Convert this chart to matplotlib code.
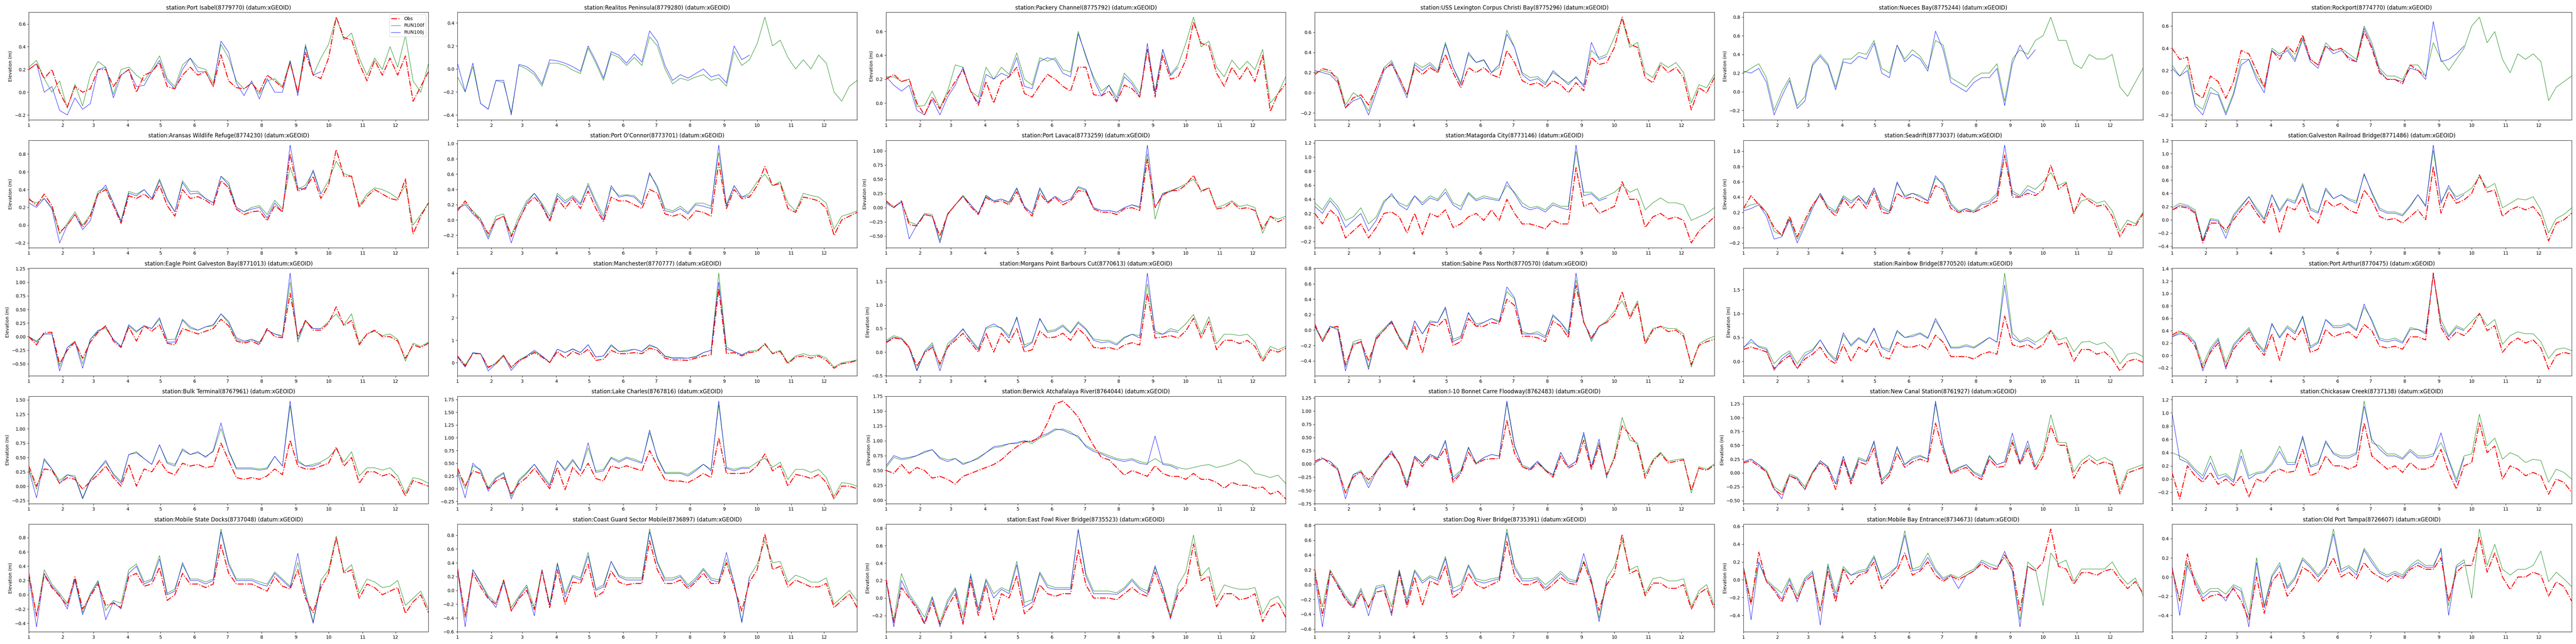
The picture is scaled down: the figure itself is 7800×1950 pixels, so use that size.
import matplotlib
matplotlib.use('Agg')
import matplotlib.pyplot as plt
import numpy as np

# weekly samples (every 7 days from Jan 1)
step_days = 7
month_start_days = [0, 31, 59, 90, 120, 151, 181, 212, 243, 273, 304, 334]
month_labels = ['1', '2', '3', '4', '5', '6', '7', '8', '9', '10', '11', '12']

station_names = ['Port Isabel', 'Realitos Peninsula', 'Packery Channel', 'USS Lexington Corpus Christi Bay',
                 'Nueces Bay', 'Rockport', 'Aransas Wildlife Refuge', "Port O'Connor", 'Port Lavaca',
                 'Matagorda City', 'Seadrift', 'Galveston Railroad Bridge', 'Eagle Point Galveston Bay',
                 'Manchester', 'Morgans Point Barbours Cut', 'Sabine Pass North', 'Rainbow Bridge',
                 'Port Arthur', 'Bulk Terminal', 'Lake Charles', 'Berwick Atchafalaya River',
                 'I-10 Bonnet Carre Floodway', 'New Canal Station', 'Chickasaw Creek', 'Mobile State Docks',
                 'Coast Guard Sector Mobile', 'East Fowl River Bridge', 'Dog River Bridge',
                 'Mobile Bay Entrance', 'Old Port Tampa']
station_ids = ['8779770', '8779280', '8775792', '8775296', '8775244', '8774770', '8774230', '8773701',
               '8773259', '8773146', '8773037', '8771486', '8771013', '8770777', '8770613', '8770570',
               '8770520', '8770475', '8767961', '8767816', '8764044', '8762483', '8761927', '8737138',
               '8737048', '8736897', '8735523', '8735391', '8734673', '8726607']

obs_8779770 = [0.2,0.25,0.12,0.2,0.0,-0.13,0.05,0.0,0.03,0.2,0.2,0.05,0.15,0.2,0.0,0.15,0.18,0.26,0.05,0.03,0.15,0.22,0.15,0.18,0.05,0.33,0.1,0.04,0.03,0.08,0.0,0.15,0.1,0.04,0.26,0.0,0.35,0.15,0.12,0.3,0.66,0.48,0.46,0.25,0.1,0.28,0.15,0.3,0.15,0.32,-0.08,0.05,0.18]
f_8779770 = [0.22,0.28,0.12,0.0,0.1,-0.14,0.07,-0.12,0.15,0.27,0.22,-0.02,0.2,0.22,0.15,0.1,0.2,0.32,0.12,0.05,0.24,0.3,0.22,0.2,0.08,0.42,0.3,0.1,0.03,0.08,-0.02,0.1,0.12,0.05,0.28,0.0,0.42,0.15,0.3,0.42,0.66,0.46,0.52,0.3,0.15,0.3,0.2,0.4,0.22,0.5,0.1,0.0,0.25]
j_8779770 = [0.2,0.25,0.0,0.05,-0.16,-0.2,-0.05,-0.15,-0.1,0.2,0.22,-0.05,0.15,0.2,0.05,0.06,0.18,0.28,0.1,0.03,0.2,0.3,0.18,0.18,0.05,0.45,0.35,0.08,-0.03,0.1,-0.06,0.12,0.0,0.0,0.27,-0.03,0.4,0.15,0.18]

obs_8779280 = []
f_8779280 = [-0.07,-0.2,0.02,-0.3,-0.35,-0.1,-0.12,-0.38,0.03,0.0,-0.05,-0.15,0.05,0.05,0.03,-0.01,-0.04,0.18,0.05,-0.1,0.13,0.1,0.03,0.1,0.03,0.28,0.2,0.0,-0.13,-0.08,-0.1,-0.07,-0.05,-0.1,-0.08,-0.15,0.15,0.03,0.08,0.22,0.45,0.2,0.25,0.1,0.0,0.08,0.0,0.12,0.05,-0.2,-0.28,-0.15,-0.1]
j_8779280 = [0.05,-0.2,0.05,-0.3,-0.35,-0.1,-0.1,-0.4,0.04,0.02,-0.03,-0.13,0.08,0.07,0.05,0.02,-0.02,0.2,0.07,-0.08,0.15,0.12,0.05,0.13,0.06,0.33,0.24,0.03,-0.1,-0.05,-0.08,-0.04,0.0,-0.07,-0.05,-0.12,0.2,0.08,0.12]

obs_8775792 = [0.2,0.24,0.18,0.2,0.0,-0.1,0.05,-0.05,0.08,0.18,0.28,0.1,-0.02,0.18,0.0,0.18,0.22,0.3,0.08,0.05,0.15,0.24,0.2,0.14,0.1,0.3,0.3,0.07,0.06,0.1,0.01,0.15,0.12,0.05,0.45,0.05,0.4,0.2,0.22,0.36,0.68,0.5,0.48,0.25,0.14,0.3,0.2,0.3,0.18,0.4,-0.07,0.08,0.16]
f_8775792 = [0.22,0.22,0.18,0.2,-0.03,-0.02,0.1,-0.04,0.1,0.32,0.3,0.1,0.05,0.3,0.2,0.3,0.24,0.42,0.2,0.15,0.38,0.35,0.38,0.28,0.26,0.6,0.38,0.22,0.1,0.15,0.05,0.25,0.18,0.08,0.45,0.1,0.45,0.24,0.32,0.5,0.72,0.47,0.52,0.3,0.22,0.36,0.28,0.35,0.28,0.45,0.0,0.08,0.22]
j_8775792 = [0.22,0.15,0.1,0.15,-0.06,-0.1,0.03,-0.1,0.05,0.15,0.3,0.1,0.0,0.24,0.2,0.25,0.22,0.38,0.14,0.12,0.35,0.38,0.36,0.25,0.22,0.58,0.4,0.2,0.06,0.15,0.02,0.22,0.16,0.05,0.5,0.08,0.45,0.23,0.3]

obs_8775296 = [0.18,0.24,0.22,0.12,-0.15,-0.05,-0.02,-0.12,0.05,0.24,0.28,0.15,-0.02,0.25,0.18,0.25,0.2,0.38,0.2,0.05,0.25,0.2,0.25,0.18,0.15,0.42,0.3,0.12,0.08,0.1,0.05,0.12,0.08,0.0,0.1,0.02,0.35,0.28,0.3,0.45,0.75,0.48,0.45,0.15,0.1,0.28,0.2,0.25,0.15,-0.17,0.05,0.0,0.15]
f_8775296 = [0.2,0.22,0.2,0.15,-0.12,0.0,-0.05,-0.18,0.05,0.25,0.32,0.15,-0.02,0.3,0.25,0.3,0.22,0.5,0.25,0.1,0.38,0.3,0.32,0.2,0.25,0.62,0.45,0.2,0.15,0.16,0.1,0.2,0.15,0.1,0.15,0.08,0.42,0.35,0.38,0.55,0.73,0.45,0.5,0.2,0.15,0.3,0.25,0.3,0.2,-0.1,0.08,0.05,0.18]
j_8775296 = [0.22,0.2,0.18,0.1,-0.15,-0.08,-0.05,-0.22,0.0,0.22,0.3,0.12,-0.05,0.28,0.22,0.28,0.2,0.48,0.25,0.08,0.4,0.3,0.33,0.2,0.28,0.58,0.45,0.18,0.12,0.14,0.08,0.22,0.15,0.08,0.16,0.06,0.5,0.33,0.36]

obs_8775244 = []
f_8775244 = [0.2,0.25,0.3,0.15,-0.2,0.0,0.15,-0.15,-0.05,0.3,0.4,0.3,0.05,0.35,0.35,0.42,0.4,0.55,0.25,0.2,0.5,0.35,0.45,0.38,0.25,0.55,0.5,0.15,0.1,0.05,0.15,0.2,0.2,0.3,-0.1,0.35,0.45,0.4,0.55,0.6,0.8,0.55,0.55,0.3,0.25,0.4,0.35,0.35,0.4,0.05,-0.05,0.1,0.25]
j_8775244 = [0.22,0.2,0.25,0.1,-0.25,-0.05,0.12,-0.18,-0.1,0.28,0.38,0.28,0.02,0.32,0.3,0.38,0.35,0.52,0.2,0.15,0.5,0.32,0.4,0.35,0.22,0.65,0.45,0.1,0.05,0.0,0.1,0.15,0.15,0.25,-0.15,0.3,0.5,0.35,0.45]

obs_8774770 = [0.4,0.3,0.32,0.0,-0.05,0.15,0.1,-0.05,0.1,0.38,0.35,0.2,0.05,0.38,0.3,0.42,0.35,0.52,0.3,0.25,0.42,0.38,0.4,0.3,0.28,0.55,0.4,0.18,0.12,0.12,0.08,0.25,0.2,0.15]
f_8774770 = [0.25,0.15,0.25,-0.1,-0.15,0.05,0.0,-0.18,0.0,0.3,0.3,0.15,0.05,0.4,0.35,0.4,0.3,0.5,0.3,0.25,0.45,0.38,0.4,0.35,0.3,0.6,0.45,0.22,0.15,0.15,0.12,0.25,0.25,0.15,0.45,0.3,0.2,0.3,0.4,0.6,0.68,0.45,0.55,0.3,0.18,0.35,0.3,0.35,0.28,-0.07,0.05,0.1,0.15]
j_8774770 = [0.22,0.15,0.2,-0.12,-0.2,0.0,-0.02,-0.2,-0.02,0.25,0.3,0.12,0.0,0.38,0.33,0.38,0.28,0.48,0.28,0.22,0.42,0.35,0.38,0.32,0.28,0.58,0.42,0.2,0.12,0.12,0.1,0.22,0.2,0.12,0.64,0.28,0.3,0.35,0.42]

obs_8774230 = [0.3,0.22,0.35,0.22,-0.08,0.0,0.12,-0.02,0.1,0.35,0.4,0.22,0.02,0.33,0.3,0.35,0.28,0.45,0.22,0.1,0.4,0.3,0.32,0.28,0.22,0.5,0.42,0.18,0.12,0.15,0.16,0.05,0.22,0.15,0.8,0.38,0.42,0.55,0.3,0.45,0.85,0.55,0.55,0.2,0.32,0.4,0.35,0.3,0.28,0.52,-0.1,0.1,0.25]
f_8774230 = [0.28,0.25,0.3,0.2,-0.1,0.02,0.15,0.0,0.12,0.38,0.42,0.25,0.05,0.38,0.35,0.4,0.3,0.52,0.3,0.15,0.5,0.38,0.38,0.3,0.25,0.55,0.48,0.2,0.15,0.2,0.22,0.12,0.28,0.18,0.65,0.4,0.45,0.6,0.35,0.5,0.72,0.58,0.55,0.22,0.35,0.42,0.4,0.36,0.3,0.45,0.0,0.12,0.25]
j_8774230 = [0.25,0.2,0.3,0.18,-0.2,0.0,0.12,-0.05,0.05,0.35,0.45,0.25,0.04,0.36,0.33,0.4,0.3,0.5,0.28,0.15,0.48,0.35,0.36,0.3,0.25,0.55,0.45,0.2,0.15,0.18,0.2,0.08,0.25,0.15,0.9,0.42,0.4,0.62,0.35]

obs_8773701 = [0.12,0.25,0.1,0.0,-0.18,0.0,0.05,-0.22,0.0,0.2,0.3,0.18,-0.02,0.28,0.15,0.28,0.15,0.38,0.15,-0.02,0.3,0.25,0.25,0.2,0.15,0.4,0.35,0.08,0.05,0.08,0.0,0.12,0.1,0.05,0.75,0.15,0.4,0.28,0.3,0.45,0.7,0.45,0.48,0.15,0.1,0.3,0.28,0.25,0.15,-0.2,0.0,0.05,0.1]
f_8773701 = [0.15,0.22,0.12,0.02,-0.22,0.05,0.08,-0.2,0.05,0.25,0.35,0.22,0.05,0.35,0.25,0.32,0.22,0.48,0.25,0.05,0.42,0.32,0.33,0.32,0.22,0.6,0.45,0.15,0.12,0.18,0.1,0.22,0.22,0.18,0.88,0.2,0.45,0.3,0.35,0.5,0.6,0.45,0.5,0.22,0.12,0.35,0.32,0.3,0.22,-0.12,0.05,0.08,0.12]
j_8773701 = [0.15,0.2,0.08,-0.02,-0.25,0.0,0.05,-0.3,0.0,0.22,0.35,0.2,0.0,0.32,0.22,0.3,0.2,0.45,0.22,0.0,0.45,0.3,0.32,0.3,0.2,0.62,0.42,0.12,0.1,0.15,0.08,0.2,0.18,0.15,0.98,0.18,0.45,0.3,0.32]

obs_8773259 = [0.12,0.0,0.12,-0.3,-0.32,-0.12,-0.15,-0.5,-0.12,0.05,0.2,0.02,-0.12,0.18,0.1,0.12,0.05,0.28,0.0,-0.15,0.25,0.08,0.18,0.05,0.12,0.3,0.28,-0.02,-0.08,-0.08,-0.12,-0.02,0.0,-0.05,0.85,0.0,0.22,0.3,0.3,0.4,0.57,0.28,0.35,-0.02,0.0,0.1,-0.02,0.0,-0.05,-0.38,-0.15,-0.25,-0.18]
f_8773259 = [0.1,0.02,0.1,-0.25,-0.3,-0.1,-0.12,-0.58,-0.1,0.05,0.22,0.05,-0.1,0.2,0.12,0.15,0.08,0.33,0.02,-0.1,0.32,0.1,0.2,0.1,0.15,0.35,0.3,0.0,-0.05,-0.05,-0.08,0.0,0.05,0.02,0.95,-0.2,0.25,0.3,0.35,0.42,0.5,0.3,0.35,0.0,0.05,0.12,0.02,0.05,0.0,-0.45,-0.15,-0.2,-0.15]
j_8773259 = [0.08,0.0,0.1,-0.55,-0.3,-0.12,-0.15,-0.62,-0.12,0.05,0.2,0.05,-0.1,0.22,0.12,0.15,0.1,0.35,0.02,-0.1,0.35,0.1,0.2,0.1,0.15,0.37,0.32,0.0,-0.05,-0.05,-0.08,0.0,0.05,0.0,1.1,0.0,0.25,0.28,0.35]

obs_8773146 = [0.2,0.05,0.25,0.15,-0.15,-0.05,0.05,-0.15,0.0,0.2,0.22,0.15,-0.08,0.2,-0.1,0.2,0.15,0.25,0.0,0.05,0.15,0.2,0.1,0.25,0.1,0.4,0.2,0.05,0.05,0.02,-0.02,0.1,0.05,0.05,0.85,0.3,0.35,0.2,0.25,0.3,0.65,0.4,0.4,0.0,0.15,0.2,0.12,0.15,0.1,-0.22,-0.05,0.05,0.15]
f_8773146 = [0.35,0.25,0.42,0.3,0.1,0.15,0.28,0.05,0.15,0.38,0.45,0.35,0.3,0.45,0.35,0.45,0.4,0.55,0.35,0.3,0.5,0.4,0.45,0.42,0.4,0.6,0.5,0.35,0.28,0.3,0.25,0.35,0.3,0.3,1.08,0.5,0.5,0.4,0.45,0.5,0.6,0.5,0.55,0.25,0.35,0.42,0.35,0.35,0.32,0.1,0.15,0.2,0.28]
j_8773146 = [0.3,0.2,0.38,0.25,0.0,0.1,0.2,-0.05,0.1,0.35,0.48,0.32,0.25,0.45,0.32,0.42,0.38,0.5,0.32,0.25,0.48,0.38,0.42,0.4,0.38,0.65,0.48,0.3,0.25,0.28,0.22,0.32,0.28,0.25,1.17,0.45,0.48,0.38,0.42]

obs_8773037 = [0.25,0.42,0.3,0.2,0.0,-0.1,0.15,-0.12,0.1,0.3,0.42,0.25,0.15,0.38,0.25,0.38,0.25,0.48,0.2,0.18,0.45,0.38,0.4,0.35,0.32,0.55,0.5,0.25,0.2,0.22,0.2,0.25,0.3,0.35,0.95,0.4,0.4,0.45,0.42,0.5,0.82,0.5,0.58,0.18,0.45,0.35,0.28,0.3,0.15,-0.12,0.05,0.02,0.18]
f_8773037 = [0.25,0.3,0.32,0.2,-0.05,-0.1,0.12,-0.15,0.05,0.28,0.45,0.28,0.22,0.42,0.35,0.42,0.32,0.52,0.28,0.22,0.58,0.42,0.45,0.42,0.35,0.65,0.58,0.32,0.22,0.25,0.22,0.32,0.35,0.45,0.95,0.48,0.42,0.55,0.5,0.6,0.72,0.55,0.6,0.2,0.35,0.38,0.32,0.35,0.22,-0.05,0.1,0.05,0.2]
j_8773037 = [0.22,0.25,0.3,0.15,-0.15,-0.12,0.1,-0.2,0.02,0.25,0.45,0.25,0.2,0.4,0.32,0.42,0.3,0.52,0.25,0.2,0.6,0.4,0.45,0.4,0.35,0.68,0.55,0.3,0.2,0.25,0.2,0.3,0.32,0.42,1.08,0.45,0.4,0.5,0.45]

obs_8771486 = [0.15,0.2,0.18,0.1,-0.35,-0.05,-0.05,-0.15,0.0,0.15,0.28,0.1,-0.05,0.25,-0.2,0.2,0.15,0.35,0.05,-0.05,0.3,0.2,0.25,0.15,0.1,0.45,0.3,0.05,0.0,0.02,-0.05,0.05,0.15,0.0,0.8,0.1,0.42,0.25,0.3,0.4,0.68,0.42,0.45,0.05,0.15,0.2,0.15,0.2,0.05,-0.32,-0.05,0.0,0.1]
f_8771486 = [0.18,0.25,0.22,0.15,-0.3,0.02,0.0,-0.2,0.08,0.22,0.35,0.18,0.02,0.38,0.15,0.32,0.28,0.55,0.18,0.12,0.45,0.32,0.38,0.32,0.28,0.68,0.42,0.18,0.12,0.12,0.08,0.22,0.38,0.22,1.05,0.28,0.48,0.35,0.4,0.48,0.65,0.48,0.55,0.18,0.25,0.32,0.3,0.35,0.15,-0.2,0.02,0.08,0.18]
j_8771486 = [0.15,0.22,0.2,0.12,-0.32,0.0,-0.02,-0.28,0.05,0.2,0.35,0.15,0.0,0.38,0.12,0.3,0.25,0.52,0.15,0.1,0.48,0.32,0.38,0.3,0.25,0.7,0.4,0.15,0.1,0.1,0.06,0.2,0.38,0.2,1.13,0.25,0.52,0.3,0.38]

obs_8771013 = [0.0,-0.15,0.08,0.08,-0.5,-0.25,-0.1,-0.4,-0.1,0.08,0.2,-0.08,-0.2,0.18,-0.08,0.2,0.1,0.22,-0.12,-0.15,0.15,0.1,0.05,0.1,0.15,0.32,0.2,-0.08,-0.12,-0.08,-0.15,0.15,0.0,-0.02,0.8,0.0,0.3,0.12,0.12,0.25,0.55,0.2,0.3,-0.15,0.05,0.12,0.0,0.0,-0.08,-0.4,-0.15,-0.2,-0.12]
f_8771013 = [0.0,-0.08,0.05,0.05,-0.55,-0.2,-0.08,-0.5,-0.05,0.12,0.15,-0.05,-0.18,0.2,0.08,0.2,0.15,0.32,-0.05,-0.05,0.3,0.15,0.12,0.18,0.2,0.42,0.25,-0.05,-0.1,-0.05,-0.1,0.12,0.05,0.02,1.0,-0.1,0.28,0.15,0.15,0.28,0.42,0.22,0.42,-0.12,0.05,0.1,0.02,0.05,-0.05,-0.45,-0.12,-0.18,-0.1]
j_8771013 = [0.0,-0.1,0.05,0.05,-0.63,-0.2,-0.1,-0.58,-0.05,0.1,0.18,-0.05,-0.18,0.22,0.1,0.2,0.15,0.35,-0.1,-0.1,0.32,0.18,0.12,0.18,0.22,0.42,0.28,-0.02,-0.08,-0.05,-0.12,0.12,0.05,0.0,1.17,-0.05,0.3,0.15,0.15]

obs_8770777 = [0.3,-0.15,0.4,0.4,-0.2,-0.05,0.3,-0.2,0.1,0.25,0.45,0.25,0.0,0.5,0.2,0.5,0.35,0.6,0.1,0.15,0.55,0.4,0.4,0.45,0.4,0.65,0.55,0.2,0.12,0.12,0.1,0.2,0.3,0.35,3.3,0.4,0.45,0.3,0.45,0.5,0.85,0.4,0.5,-0.05,0.25,0.3,0.2,0.3,0.1,-0.25,-0.05,0.0,0.1]
f_8770777 = [0.3,-0.1,0.42,0.4,-0.25,0.0,0.35,-0.25,0.12,0.3,0.5,0.3,0.02,0.6,0.45,0.62,0.45,0.8,0.25,0.3,0.75,0.5,0.55,0.6,0.5,0.75,0.65,0.3,0.22,0.22,0.2,0.28,0.45,0.55,4.0,0.7,0.5,0.35,0.52,0.55,0.8,0.42,0.55,0.0,0.3,0.4,0.3,0.35,0.2,-0.2,0.0,0.05,0.12]
j_8770777 = [0.25,-0.2,0.45,0.4,-0.37,-0.05,0.3,-0.35,0.05,0.3,0.55,0.3,0.0,0.6,0.45,0.6,0.45,0.8,0.25,0.3,0.8,0.5,0.5,0.6,0.5,0.8,0.65,0.28,0.2,0.2,0.2,0.25,0.45,0.55,3.6,0.6,0.5,0.35,0.5]

obs_8770613 = [0.2,0.3,0.28,0.1,-0.3,-0.02,0.1,-0.25,0.1,0.25,0.4,0.2,0.0,0.4,0.0,0.4,0.2,0.5,0.0,0.05,0.45,0.3,0.32,0.4,0.25,0.5,0.35,0.1,0.08,0.1,0.05,0.15,0.2,0.15,1.25,0.3,0.32,0.35,0.3,0.45,0.72,0.3,0.65,0.05,0.25,0.25,0.18,0.25,0.12,-0.2,0.05,0.0,0.08]
f_8770613 = [0.25,0.35,0.3,0.12,-0.38,0.02,0.2,-0.3,0.18,0.32,0.48,0.28,0.08,0.5,0.55,0.52,0.35,0.72,0.15,0.22,0.7,0.45,0.48,0.58,0.42,0.65,0.5,0.28,0.25,0.25,0.18,0.32,0.38,0.35,1.45,0.45,0.38,0.5,0.45,0.6,0.8,0.38,0.75,0.18,0.38,0.38,0.35,0.38,0.22,-0.15,0.12,0.05,0.12]
j_8770613 = [0.22,0.32,0.28,0.08,-0.4,0.0,0.15,-0.4,0.12,0.3,0.5,0.25,0.05,0.52,0.6,0.5,0.3,0.75,0.1,0.2,0.72,0.42,0.45,0.55,0.4,0.62,0.48,0.25,0.2,0.22,0.15,0.3,0.38,0.3,1.68,0.4,0.38,0.45,0.42]

obs_8770570 = [0.08,-0.15,0.03,0.05,-0.45,-0.2,-0.15,-0.4,-0.12,0.0,0.1,-0.1,-0.25,0.05,-0.3,0.08,0.05,0.15,-0.2,-0.15,0.15,0.05,0.05,0.1,0.08,0.4,0.32,-0.08,-0.08,-0.1,-0.15,0.12,0.05,-0.1,0.58,0.1,-0.1,0.05,0.1,0.2,0.5,0.15,0.35,-0.18,0.0,0.05,-0.02,0.0,-0.08,-0.45,-0.2,-0.15,-0.12]
f_8770570 = [0.05,-0.12,0.05,0.02,-0.48,-0.15,-0.12,-0.48,-0.08,0.02,0.12,-0.08,-0.22,0.12,-0.05,0.12,0.1,0.28,-0.12,-0.08,0.22,0.08,0.1,0.15,0.12,0.5,0.4,-0.02,-0.05,-0.02,-0.08,0.18,0.1,-0.02,0.65,0.12,-0.15,0.05,0.12,0.25,0.38,0.18,0.38,-0.15,0.02,0.05,0.02,0.02,-0.05,-0.48,-0.18,-0.12,-0.08]
j_8770570 = [0.05,-0.15,0.05,0.0,-0.53,-0.18,-0.15,-0.51,-0.1,0.0,0.12,-0.1,-0.25,0.12,-0.05,0.1,0.1,0.3,-0.15,-0.1,0.23,0.05,0.1,0.15,0.1,0.56,0.42,-0.05,-0.05,-0.05,-0.1,0.2,0.1,-0.05,0.74,0.1,-0.12,0.05,0.1]

obs_8770520 = [0.25,0.3,0.25,0.2,-0.15,0.0,0.12,-0.15,0.05,0.15,0.3,0.05,-0.05,0.35,0.0,0.3,0.2,0.45,0.1,0.05,0.4,0.3,0.3,0.35,0.25,0.55,0.4,0.1,0.1,0.1,0.05,0.15,0.2,0.15,0.95,0.35,0.3,0.35,0.25,0.35,0.65,0.35,0.4,0.0,0.25,0.25,0.15,0.2,0.05,-0.2,0.0,0.05,-0.02]
f_8770520 = [0.3,0.4,0.32,0.28,-0.05,0.12,0.22,-0.05,0.18,0.25,0.45,0.2,0.05,0.55,0.35,0.5,0.4,0.68,0.3,0.25,0.62,0.5,0.55,0.6,0.5,0.85,0.6,0.3,0.3,0.35,0.3,0.4,0.5,0.4,1.85,0.6,0.42,0.5,0.4,0.5,0.65,0.45,0.5,0.2,0.4,0.42,0.35,0.4,0.25,-0.05,0.15,0.18,0.1]
j_8770520 = [0.28,0.46,0.3,0.25,-0.19,0.05,0.18,-0.15,0.12,0.22,0.45,0.18,0.0,0.6,0.32,0.48,0.38,0.7,0.28,0.2,0.65,0.5,0.52,0.58,0.48,0.9,0.6,0.28,0.28,0.32,0.28,0.38,0.5,0.4,1.6,0.5,0.4,0.45,0.35]

obs_8770475 = [0.33,0.4,0.3,0.15,-0.2,0.05,0.2,-0.18,0.1,0.25,0.38,0.15,0.0,0.35,-0.08,0.35,0.25,0.45,0.05,0.1,0.42,0.3,0.35,0.38,0.28,0.5,0.4,0.15,0.12,0.15,0.1,0.3,0.3,0.25,1.33,0.45,0.25,0.38,0.32,0.45,0.68,0.4,0.48,0.05,0.2,0.28,0.2,0.25,0.12,-0.22,0.0,0.05,0.02]
f_8770475 = [0.3,0.38,0.35,0.22,-0.15,0.12,0.28,-0.12,0.18,0.32,0.45,0.22,0.08,0.5,0.3,0.48,0.38,0.64,0.15,0.22,0.58,0.48,0.48,0.52,0.42,0.78,0.58,0.28,0.25,0.28,0.22,0.45,0.42,0.38,1.3,0.58,0.32,0.48,0.42,0.55,0.68,0.48,0.58,0.18,0.32,0.38,0.35,0.35,0.22,-0.05,0.1,0.12,0.08]
j_8770475 = [0.3,0.35,0.32,0.2,-0.25,0.08,0.25,-0.22,0.15,0.3,0.42,0.2,0.05,0.52,0.28,0.45,0.35,0.62,0.12,0.2,0.58,0.45,0.45,0.5,0.4,0.83,0.55,0.25,0.22,0.25,0.2,0.42,0.42,0.35,1.3,0.5,0.3,0.45,0.4]

obs_8767961 = [0.35,0.0,0.3,0.28,0.05,0.15,0.12,-0.05,0.08,0.2,0.35,0.15,0.0,0.38,0.0,0.3,0.25,0.45,0.25,0.2,0.4,0.35,0.38,0.32,0.35,0.75,0.45,0.15,0.12,0.15,0.12,0.18,0.3,0.2,0.8,0.35,0.3,0.3,0.35,0.4,0.68,0.35,0.5,0.05,0.25,0.25,0.18,0.22,0.1,-0.17,0.1,0.05,0.0]
f_8767961 = [0.3,-0.05,0.45,0.3,0.1,0.2,0.18,-0.2,0.12,0.28,0.42,0.22,0.08,0.55,0.6,0.48,0.38,0.72,0.42,0.38,0.62,0.55,0.58,0.52,0.6,1.0,0.62,0.32,0.32,0.32,0.3,0.32,0.52,0.35,1.4,0.45,0.35,0.38,0.42,0.5,0.65,0.42,0.6,0.18,0.32,0.32,0.28,0.32,0.18,-0.12,0.15,0.12,0.05]
j_8767961 = [0.28,-0.2,0.48,0.3,0.05,0.2,0.15,-0.22,0.1,0.28,0.45,0.2,0.05,0.55,0.58,0.48,0.38,0.72,0.4,0.35,0.65,0.55,0.6,0.5,0.62,1.1,0.6,0.3,0.3,0.3,0.28,0.3,0.52,0.35,1.48,0.42,0.35,0.35,0.4]

obs_8767816 = [0.4,0.05,0.35,0.3,0.0,0.15,0.22,-0.1,0.1,0.22,0.4,0.2,0.0,0.42,-0.02,0.42,0.25,0.5,0.2,0.15,0.45,0.4,0.45,0.4,0.35,0.75,0.45,0.18,0.15,0.15,0.12,0.2,0.3,0.22,1.0,0.3,0.3,0.3,0.32,0.45,0.68,0.35,0.45,0.05,0.28,0.25,0.2,0.28,0.12,-0.2,0.05,0.05,0.0]
f_8767816 = [0.35,0.0,0.45,0.38,0.02,0.22,0.32,-0.15,0.18,0.32,0.48,0.28,0.08,0.55,0.38,0.58,0.35,0.8,0.35,0.38,0.62,0.55,0.62,0.58,0.52,1.1,0.62,0.32,0.32,0.32,0.28,0.38,0.48,0.38,1.65,0.42,0.38,0.42,0.42,0.52,0.6,0.42,0.52,0.18,0.38,0.38,0.32,0.38,0.22,-0.15,0.12,0.1,0.05]
j_8767816 = [0.32,-0.18,0.5,0.35,-0.05,0.2,0.3,-0.2,0.15,0.3,0.48,0.25,0.05,0.55,0.35,0.55,0.35,0.9,0.32,0.35,0.6,0.52,0.6,0.55,0.5,1.15,0.6,0.3,0.3,0.3,0.25,0.35,0.48,0.35,1.72,0.4,0.35,0.4,0.4]

obs_8764044 = [0.5,0.45,0.6,0.45,0.55,0.5,0.37,0.4,0.35,0.27,0.4,0.45,0.5,0.55,0.6,0.68,0.8,0.9,0.98,1.0,1.05,1.3,1.62,1.67,1.55,1.4,1.15,0.92,0.72,0.68,0.55,0.42,0.5,0.45,0.4,0.58,0.45,0.4,0.4,0.35,0.45,0.35,0.35,0.3,0.2,0.3,0.25,0.25,0.2,0.22,0.1,0.15,0.02]
f_8764044 = [0.55,0.72,0.68,0.7,0.75,0.8,0.85,0.72,0.68,0.7,0.62,0.65,0.72,0.8,0.88,0.9,0.95,0.95,1.0,0.95,1.05,1.1,1.18,1.2,1.15,1.05,0.92,0.85,0.8,0.75,0.7,0.68,0.7,0.65,0.62,0.7,0.62,0.6,0.55,0.52,0.55,0.58,0.6,0.55,0.58,0.62,0.68,0.6,0.45,0.42,0.38,0.42,0.28]
j_8764044 = [0.58,0.75,0.7,0.72,0.75,0.82,0.85,0.7,0.65,0.7,0.6,0.65,0.7,0.8,0.9,0.92,0.95,0.97,1.0,0.98,1.08,1.12,1.2,1.18,1.12,1.08,0.9,0.82,0.78,0.72,0.68,0.65,0.68,0.62,0.6,1.08,0.6,0.58,0.52]

obs_8762483 = [0.05,0.12,0.0,-0.1,-0.55,-0.25,-0.15,-0.3,-0.15,0.05,0.2,0.0,-0.45,0.12,-0.05,0.15,0.08,0.3,-0.35,-0.18,0.22,0.0,0.08,0.1,0.1,0.82,0.2,-0.05,-0.12,0.02,-0.12,-0.25,0.15,-0.08,0.0,0.45,-0.1,0.35,-0.2,0.1,0.72,0.55,0.35,-0.27,0.05,0.2,0.02,0.05,0.08,-0.5,-0.08,-0.12,-0.02]
f_8762483 = [0.02,0.1,0.05,-0.08,-0.55,-0.2,-0.12,-0.38,-0.12,0.08,0.22,0.02,-0.35,0.15,0.02,0.18,0.12,0.42,-0.25,-0.12,0.3,0.02,0.12,0.18,0.15,1.15,0.32,-0.02,-0.08,0.05,-0.1,-0.22,0.22,-0.05,0.05,0.55,-0.05,0.4,-0.25,0.15,0.88,0.45,0.4,-0.2,0.08,0.22,0.05,0.08,0.1,-0.55,-0.05,-0.1,0.0]
j_8762483 = [0.02,0.1,0.05,-0.12,-0.66,-0.2,-0.15,-0.45,-0.15,0.05,0.25,0.0,-0.4,0.15,0.0,0.18,0.1,0.45,-0.3,-0.15,0.32,0.0,0.12,0.18,0.15,1.19,0.35,-0.05,-0.1,0.05,-0.12,-0.2,0.22,-0.05,0.05,0.6,-0.05,0.47,-0.27]

obs_8761927 = [0.18,0.22,0.12,0.02,-0.3,-0.4,-0.05,-0.12,-0.3,0.0,0.18,0.08,-0.3,0.25,-0.2,0.2,0.15,0.45,-0.2,-0.05,0.35,0.1,0.2,0.25,0.2,0.9,0.4,-0.02,0.05,0.1,-0.05,-0.12,0.25,0.1,0.12,0.55,0.15,0.45,0.05,0.3,0.85,0.5,0.5,-0.1,0.15,0.25,0.15,0.2,0.15,-0.38,0.0,0.05,0.1]
f_8761927 = [0.2,0.25,0.15,0.05,-0.25,-0.35,-0.02,-0.08,-0.25,0.02,0.22,0.12,-0.2,0.3,-0.12,0.28,0.22,0.55,-0.12,0.02,0.45,0.15,0.28,0.32,0.25,1.25,0.5,0.02,0.1,0.15,0.02,-0.05,0.32,0.15,0.2,0.6,0.2,0.5,0.12,0.38,1.05,0.55,0.55,0.02,0.22,0.32,0.22,0.28,0.2,-0.3,0.05,0.1,0.15]
j_8761927 = [0.2,0.25,0.15,0.02,-0.28,-0.47,-0.05,-0.1,-0.3,0.0,0.22,0.1,-0.2,0.3,-0.15,0.25,0.2,0.58,-0.15,0.0,0.48,0.15,0.25,0.3,0.25,1.3,0.48,0.0,0.08,0.15,0.0,-0.08,0.3,0.15,0.2,0.72,0.18,0.58,0.1]

obs_8737138 = [0.1,-0.3,0.2,0.05,-0.05,0.1,-0.08,0.0,-0.1,0.05,-0.27,0.0,-0.05,0.1,0.15,0.1,0.12,0.45,0.05,0.1,0.35,0.2,0.2,0.15,0.2,0.85,0.35,0.25,0.15,0.2,0.1,0.25,0.15,0.15,0.2,0.45,0.1,-0.15,0.2,0.25,0.85,0.4,0.5,0.0,0.2,0.15,0.05,0.1,0.05,-0.23,0.0,-0.05,-0.2]
f_8737138 = [0.4,0.35,0.28,0.15,0.05,0.35,0.05,0.08,-0.02,0.45,0.05,0.1,0.12,0.25,0.5,0.25,0.25,0.62,0.2,0.25,0.55,0.4,0.35,0.35,0.4,1.18,0.55,0.5,0.38,0.38,0.32,0.45,0.35,0.35,0.38,0.55,0.3,0.0,0.35,0.38,0.98,0.5,0.62,0.3,0.4,0.35,0.25,0.3,0.28,-0.05,0.15,0.1,0.0]
j_8737138 = [1.0,0.3,0.25,0.12,0.0,0.25,0.0,0.05,-0.05,0.35,0.0,0.08,0.1,0.22,0.42,0.22,0.22,0.65,0.18,0.22,0.58,0.38,0.32,0.32,0.38,1.1,0.6,0.45,0.35,0.35,0.3,0.42,0.32,0.32,0.35,0.7,0.28,-0.05,0.32]

obs_8737048 = [0.3,-0.3,0.28,0.1,-0.02,-0.15,0.25,-0.2,-0.02,0.15,-0.15,-0.12,-0.18,0.25,0.3,0.12,0.15,0.38,-0.08,0.0,0.3,0.15,0.15,0.1,0.15,0.7,0.3,0.15,0.15,0.15,0.1,0.05,0.25,0.12,0.08,0.35,-0.05,-0.25,0.1,0.3,0.8,0.3,0.35,-0.05,0.15,0.1,0.0,0.05,0.1,-0.26,-0.1,0.0,-0.25]
f_8737048 = [0.28,-0.3,0.35,0.15,0.02,-0.12,0.22,-0.25,0.02,0.2,-0.22,-0.08,-0.12,0.35,0.43,0.18,0.22,0.55,0.02,0.08,0.42,0.22,0.22,0.18,0.22,0.92,0.45,0.22,0.22,0.22,0.18,0.15,0.32,0.22,0.12,0.45,0.05,-0.38,0.2,0.35,0.82,0.32,0.42,0.02,0.22,0.18,0.1,0.12,0.2,-0.15,-0.05,0.05,-0.2]
j_8737048 = [0.25,-0.45,0.3,0.12,0.0,-0.2,0.2,-0.28,0.0,0.18,-0.35,-0.1,-0.2,0.3,0.4,0.15,0.2,0.5,0.0,0.05,0.45,0.2,0.2,0.15,0.2,0.88,0.42,0.2,0.2,0.2,0.15,0.12,0.3,0.2,0.1,0.58,0.0,-0.4,0.15]

obs_8736897 = [0.32,-0.38,0.25,0.05,-0.12,-0.2,0.15,-0.3,-0.12,0.0,-0.28,0.28,-0.25,0.3,-0.2,0.12,0.1,0.38,-0.1,-0.02,0.28,0.12,0.08,0.1,0.1,0.72,0.3,0.1,0.1,0.15,0.02,0.12,0.25,0.1,0.1,0.4,0.05,-0.3,0.12,0.3,0.82,0.3,0.35,0.05,0.15,0.1,0.05,0.05,0.1,-0.25,-0.15,-0.05,-0.25]
f_8736897 = [0.32,-0.4,0.3,0.12,-0.08,-0.18,0.15,-0.25,-0.08,0.08,-0.25,0.3,-0.2,0.4,-0.05,0.22,0.18,0.55,0.02,0.08,0.42,0.22,0.18,0.18,0.18,0.89,0.42,0.18,0.18,0.22,0.08,0.18,0.32,0.18,0.15,0.45,0.12,-0.45,0.2,0.38,0.72,0.4,0.42,0.12,0.22,0.18,0.12,0.12,0.18,-0.2,-0.1,0.0,-0.15]
j_8736897 = [0.3,-0.53,0.3,0.1,-0.1,-0.25,0.12,-0.3,-0.1,0.05,-0.37,0.3,-0.22,0.38,-0.1,0.2,0.15,0.5,0.0,0.05,0.42,0.2,0.15,0.15,0.15,0.85,0.4,0.15,0.15,0.2,0.05,0.15,0.3,0.15,0.12,0.55,0.1,-0.47,0.2]

obs_8735523 = [0.22,-0.28,0.12,0.0,-0.12,-0.3,-0.05,-0.3,-0.1,0.05,-0.3,0.2,-0.2,0.15,-0.25,0.05,0.0,0.25,-0.18,-0.1,0.15,0.05,0.02,0.05,0.05,0.55,0.15,0.0,0.0,0.0,-0.02,0.05,0.12,0.05,0.02,0.3,0.05,-0.22,0.05,0.15,0.62,0.2,0.25,-0.1,0.05,0.05,-0.02,0.0,0.05,-0.27,-0.1,-0.05,-0.22]
f_8735523 = [0.2,-0.25,0.28,0.05,-0.08,-0.22,0.02,-0.28,-0.02,0.12,-0.2,0.28,-0.12,0.22,0.05,0.12,0.08,0.42,-0.05,-0.02,0.3,0.15,0.12,0.12,0.12,0.79,0.28,0.08,0.08,0.08,0.06,0.12,0.22,0.12,0.08,0.35,0.12,-0.2,0.15,0.3,0.72,0.25,0.35,-0.02,0.15,0.12,0.1,0.1,0.12,-0.18,-0.02,0.02,-0.12]
j_8735523 = [0.2,-0.33,0.2,0.02,-0.1,-0.28,0.0,-0.33,-0.05,0.1,-0.28,0.25,-0.15,0.2,0.0,0.1,0.05,0.38,-0.1,-0.05,0.28,0.12,0.1,0.1,0.1,0.78,0.25,0.05,0.05,0.05,0.04,0.1,0.2,0.1,0.05,0.37,0.1,-0.24,0.1]

obs_8735391 = [0.2,-0.42,0.18,-0.02,-0.2,-0.32,-0.12,-0.3,-0.1,-0.08,-0.38,0.15,-0.3,0.1,-0.28,0.05,0.0,0.25,-0.18,-0.1,0.15,0.0,-0.05,0.0,0.05,0.58,0.12,0.0,0.0,0.05,-0.08,0.0,0.1,0.02,0.0,0.3,0.02,-0.35,0.0,0.15,0.68,0.15,0.2,-0.15,0.02,0.02,-0.05,-0.05,0.0,-0.33,-0.12,-0.05,-0.33]
f_8735391 = [0.15,-0.3,0.2,0.02,-0.15,-0.28,-0.05,-0.32,-0.02,0.0,-0.3,0.2,-0.2,0.2,0.05,0.12,0.08,0.38,-0.05,0.0,0.27,0.08,0.05,0.08,0.1,0.75,0.25,0.08,0.08,0.1,0.0,0.08,0.18,0.08,0.05,0.32,0.08,-0.45,0.08,0.25,0.6,0.2,0.25,-0.12,0.08,0.1,0.05,0.05,0.08,-0.3,-0.08,0.0,-0.28]
j_8735391 = [0.12,-0.57,0.15,0.0,-0.18,-0.3,-0.08,-0.42,-0.05,-0.02,-0.42,0.18,-0.25,0.18,0.02,0.1,0.05,0.35,-0.1,-0.05,0.25,0.05,0.02,0.05,0.08,0.7,0.22,0.05,0.05,0.08,-0.05,0.05,0.15,0.05,0.03,0.42,0.05,-0.5,0.05]

obs_8734673 = [0.12,-0.28,0.31,-0.02,-0.12,-0.25,-0.05,-0.22,-0.02,0.05,-0.35,0.1,-0.25,0.12,-0.05,0.05,0.08,0.2,-0.1,0.02,0.1,0.3,0.05,0.1,0.2,0.05,-0.02,0.04,0.0,0.05,0.1,0.18,0.12,0.12,0.28,0.15,-0.35,0.15,0.1,0.2,0.57,0.15,0.12,-0.05,0.08,0.08,0.05,0.1,0.12,0.0,-0.1,-0.02,-0.15]
f_8734673 = [0.15,-0.25,0.2,0.0,-0.08,-0.15,0.02,-0.18,0.02,0.1,-0.35,0.18,-0.15,0.15,0.05,0.1,0.12,0.27,0.02,0.08,0.15,0.55,0.12,0.15,0.3,0.12,0.02,0.06,0.02,0.08,0.12,0.22,0.18,0.15,0.25,0.1,-0.45,0.2,0.12,-0.29,0.3,0.18,0.22,-0.02,0.12,0.12,0.12,0.12,0.2,0.05,-0.05,0.02,-0.18]
j_8734673 = [0.15,-0.45,0.2,-0.02,-0.1,-0.22,0.0,-0.25,0.0,0.08,-0.51,0.15,-0.2,0.12,0.05,0.08,0.1,0.25,0.0,0.05,0.15,0.5,0.1,0.12,0.25,0.1,0.0,0.05,-0.1,0.05,0.1,0.2,0.15,0.12,0.32,0.1,-0.53,0.15,0.1]

obs_8726607 = [0.08,-0.25,0.24,-0.08,-0.25,-0.2,-0.18,-0.22,-0.12,-0.25,-0.45,0.0,-0.38,-0.05,0.05,-0.2,-0.1,0.1,0.05,-0.05,0.05,0.2,0.0,0.05,-0.02,0.15,0.05,0.0,-0.05,0.02,-0.02,0.08,0.12,0.08,0.08,0.2,-0.25,0.05,0.12,0.12,0.42,0.05,0.25,0.0,-0.13,0.0,0.0,0.05,0.02,-0.2,-0.05,-0.1,-0.25]
f_8726607 = [0.1,-0.25,0.15,-0.02,-0.18,-0.12,-0.12,-0.18,-0.08,-0.12,-0.4,0.2,-0.3,0.02,0.15,-0.1,0.0,0.2,0.12,0.02,0.12,0.5,0.08,0.12,0.05,0.3,0.18,0.06,0.02,0.06,0.02,0.12,0.18,0.12,0.12,0.28,-0.3,0.12,0.18,-0.22,0.5,0.12,0.34,0.08,0.02,0.08,0.08,0.12,0.27,-0.05,0.05,-0.02,-0.1]
j_8726607 = [0.12,-0.4,0.12,-0.05,-0.22,-0.15,-0.15,-0.25,-0.1,-0.15,-0.52,0.15,-0.32,0.0,0.12,-0.12,-0.02,0.18,0.1,0.0,0.1,0.45,0.05,0.1,0.02,0.28,0.15,0.04,0.0,0.04,0.0,0.1,0.15,0.1,0.1,0.3,-0.4,0.1,0.15]

obs_all = [obs_8779770, obs_8779280, obs_8775792, obs_8775296, obs_8775244, obs_8774770,
           obs_8774230, obs_8773701, obs_8773259, obs_8773146, obs_8773037, obs_8771486,
           obs_8771013, obs_8770777, obs_8770613, obs_8770570, obs_8770520, obs_8770475,
           obs_8767961, obs_8767816, obs_8764044, obs_8762483, obs_8761927, obs_8737138,
           obs_8737048, obs_8736897, obs_8735523, obs_8735391, obs_8734673, obs_8726607]
f_all = [f_8779770, f_8779280, f_8775792, f_8775296, f_8775244, f_8774770,
         f_8774230, f_8773701, f_8773259, f_8773146, f_8773037, f_8771486,
         f_8771013, f_8770777, f_8770613, f_8770570, f_8770520, f_8770475,
         f_8767961, f_8767816, f_8764044, f_8762483, f_8761927, f_8737138,
         f_8737048, f_8736897, f_8735523, f_8735391, f_8734673, f_8726607]
j_all = [j_8779770, j_8779280, j_8775792, j_8775296, j_8775244, j_8774770,
         j_8774230, j_8773701, j_8773259, j_8773146, j_8773037, j_8771486,
         j_8771013, j_8770777, j_8770613, j_8770570, j_8770520, j_8770475,
         j_8767961, j_8767816, j_8764044, j_8762483, j_8761927, j_8737138,
         j_8737048, j_8736897, j_8735523, j_8735391, j_8734673, j_8726607]


def days_of(series):
    return np.arange(len(series)) * step_days


fig, axes = plt.subplots(5, 6, figsize=(78, 19.5), dpi=100)
plt.subplots_adjust(left=0.0112, right=0.9983, top=0.981, bottom=0.019, wspace=0.0727, hspace=0.189)

for k, ax in enumerate(axes.flat):
    o, f, j = obs_all[k], f_all[k], j_all[k]
    if len(o) > 0:
        ax.plot(days_of(o), o, 'r-.', lw=2, label='Obs', zorder=3)
    else:
        ax.plot([], [], 'r-.', lw=2, label='Obs')
    ax.plot(days_of(f), f, 'g-', lw=0.8, label='RUN100f')
    ax.plot(days_of(j), j, 'b-', lw=0.8, label='RUN100j')
    ax.set_xlim(0, 364)
    ax.set_xticks(month_start_days)
    ax.set_xticklabels(month_labels)
    ax.set_title('station:' + station_names[k] + '(' + station_ids[k] + ') (datum:xGEOID)')
    if (k % 6) % 2 == 0:
        ax.set_ylabel('Elevation (m)')
    if k == 0:
        ax.legend(loc='upper right')

fig.savefig('out.png', dpi=100)
